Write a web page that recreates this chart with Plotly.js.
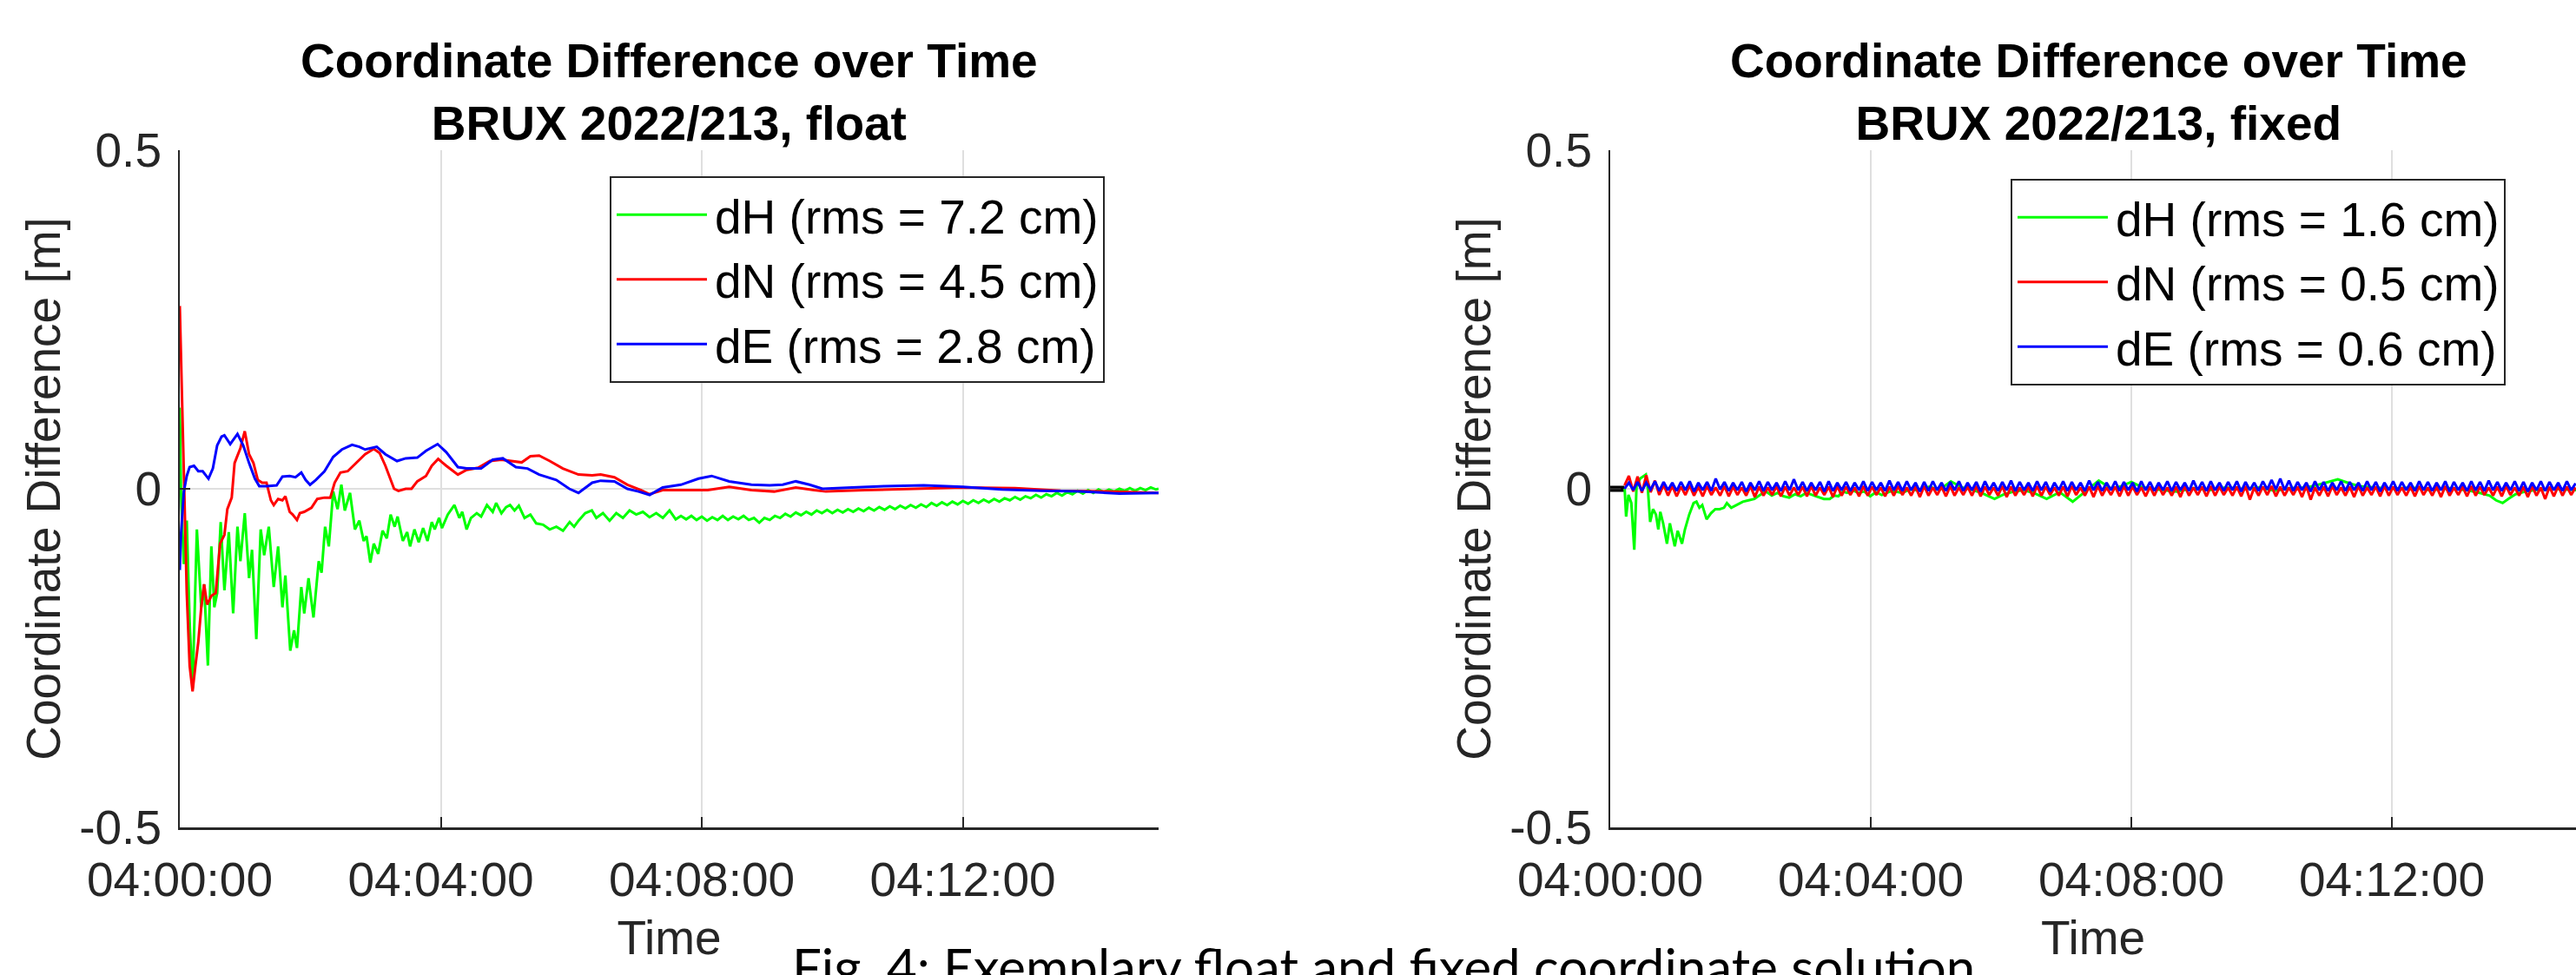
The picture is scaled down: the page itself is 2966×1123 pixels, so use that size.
<!DOCTYPE html>
<html>
<head>
<meta charset="utf-8">
<script src="https://cdn.plot.ly/plotly-3.0.1.min.js"></script>
<style>
html,body{margin:0;padding:0;background:#fff;overflow:hidden}
#chart{width:2966px;height:1123px}
</style>
</head>
<body>
<div id="chart"></div>
<script>
// ---------- tick labels & names ----------
const timeTickVals = [0, 4, 8, 12];                 // minutes after 04:00:00
const timeTickText = ['04:00:00', '04:04:00', '04:08:00', '04:12:00'];
const valueTickVals = [-0.5, 0, 0.5];
const valueTickText = ['-0.5', '0', '0.5'];
const seriesNames = ['dH', 'dN', 'dE'];
const floatRmsCm = [7.2, 4.5, 2.8];
const fixedRmsCm = [1.6, 0.5, 0.6];
const floatTitle = ['Coordinate Difference over Time', 'BRUX 2022/213, float'];
const fixedTitle = ['Coordinate Difference over Time', 'BRUX 2022/213, fixed'];
const captionText = 'Fig. 4: Exemplary float and fixed coordinate solution';

// ---------- float solution: [minutes, metres] ----------
const floatDH = [
[0.000,0.120],[0.018,-0.004],[0.062,-0.111],[0.107,-0.047],[0.151,-0.197],[0.196,-0.295],[0.262,-0.060],
[0.329,-0.175],[0.373,-0.141],[0.431,-0.261],[0.484,-0.085],[0.529,-0.175],[0.573,-0.154],[0.627,-0.049],
[0.684,-0.150],[0.751,-0.064],[0.818,-0.184],[0.884,-0.056],[0.929,-0.107],[0.996,-0.036],[1.062,-0.132],
[1.107,-0.090],[1.173,-0.222],[1.240,-0.060],[1.293,-0.098],[1.364,-0.056],[1.440,-0.145],[1.507,-0.085],
[1.573,-0.175],[1.618,-0.128],[1.693,-0.239],[1.751,-0.209],[1.796,-0.235],[1.862,-0.145],[1.907,-0.184],
[1.973,-0.132],[2.049,-0.190],[2.129,-0.107],[2.173,-0.124],[2.227,-0.056],[2.284,-0.085],[2.351,-0.004],
[2.418,-0.030],[2.476,0.006],[2.529,-0.032],[2.609,-0.006],[2.684,-0.060],[2.751,-0.047],[2.818,-0.077],
[2.862,-0.070],[2.920,-0.109],[2.973,-0.081],[3.040,-0.096],[3.107,-0.062],[3.173,-0.073],[3.231,-0.038],
[3.293,-0.056],[3.338,-0.041],[3.418,-0.077],[3.484,-0.064],[3.529,-0.085],[3.596,-0.060],[3.662,-0.079],
[3.729,-0.058],[3.796,-0.077],[3.862,-0.049],[3.907,-0.060],[3.973,-0.043],[4.018,-0.058],[4.107,-0.038],
[4.209,-0.024],[4.284,-0.043],[4.329,-0.034],[4.396,-0.060],[4.462,-0.043],[4.551,-0.036],[4.618,-0.041],
[4.707,-0.024],[4.796,-0.034],[4.849,-0.021],[4.929,-0.036],[5.000,-0.027],[5.062,-0.024],[5.130,-0.032],
[5.196,-0.025],[5.284,-0.043],[5.373,-0.038],[5.462,-0.051],[5.567,-0.053],[5.669,-0.060],[5.771,-0.056],
[5.873,-0.062],[5.975,-0.049],[6.043,-0.056],[6.111,-0.047],[6.213,-0.036],[6.315,-0.032],[6.383,-0.043],
[6.485,-0.036],[6.587,-0.047],[6.689,-0.036],[6.791,-0.043],[6.893,-0.032],[6.995,-0.038],[7.097,-0.034],
[7.199,-0.042],[7.301,-0.036],[7.403,-0.043],[7.505,-0.032],[7.600,-0.045],[7.68,-0.040],[7.76,-0.045],
[7.84,-0.040],[7.92,-0.046],[8.00,-0.041],[8.08,-0.047],[8.16,-0.042],[8.24,-0.046],[8.32,-0.040],
[8.40,-0.046],[8.48,-0.041],[8.56,-0.045],[8.64,-0.040],[8.72,-0.046],[8.80,-0.043],[8.88,-0.050],
[8.96,-0.043],[9.04,-0.046],[9.12,-0.040],[9.20,-0.043],[9.28,-0.037],[9.36,-0.041],[9.44,-0.035],
[9.52,-0.039],[9.60,-0.034],[9.68,-0.038],[9.76,-0.032],[9.84,-0.036],[9.92,-0.031],[10.00,-0.036],
[10.08,-0.031],[10.16,-0.035],[10.24,-0.030],[10.32,-0.034],[10.40,-0.029],[10.48,-0.033],[10.56,-0.028],
[10.64,-0.032],[10.72,-0.027],[10.80,-0.031],[10.88,-0.026],[10.96,-0.030],[11.04,-0.025],[11.12,-0.029],
[11.20,-0.024],[11.28,-0.028],[11.36,-0.023],[11.44,-0.027],[11.52,-0.021],[11.60,-0.025],[11.68,-0.020],
[11.76,-0.024],[11.84,-0.019],[11.92,-0.023],[12.00,-0.018],[12.08,-0.022],[12.16,-0.017],[12.24,-0.021],
[12.32,-0.016],[12.40,-0.020],[12.48,-0.015],[12.56,-0.019],[12.64,-0.014],[12.72,-0.017],[12.80,-0.012],
[12.88,-0.016],[12.96,-0.011],[13.04,-0.014],[13.12,-0.009],[13.20,-0.013],[13.28,-0.008],[13.36,-0.011],
[13.44,-0.006],[13.52,-0.010],[13.60,-0.005],[13.68,-0.008],[13.76,-0.003],[13.84,-0.007],[13.92,-0.002],
[14.00,-0.006],[14.08,-0.001],[14.16,-0.005],[14.24,-0.001],[14.32,-0.004],[14.40,0.000],[14.48,-0.003],
[14.56,0.001],[14.64,-0.003],[14.72,0.001],[14.80,-0.002],[14.88,0.002],[14.96,-0.001],[15.00,0.000]
];
const floatDN = [
[0.000,0.270],[0.018,0.200],[0.062,0.038],[0.107,-0.154],[0.151,-0.261],[0.196,-0.299],[0.240,-0.261],
[0.284,-0.226],[0.329,-0.175],[0.373,-0.141],[0.418,-0.171],[0.484,-0.158],[0.551,-0.154],[0.618,-0.081],
[0.684,-0.068],[0.729,-0.030],[0.796,-0.013],[0.840,0.038],[0.876,0.047],[0.929,0.060],[0.996,0.085],
[1.062,0.051],[1.129,0.038],[1.196,0.013],[1.262,0.009],[1.329,0.009],[1.396,-0.017],[1.440,-0.024],
[1.507,-0.015],[1.573,-0.017],[1.618,-0.011],[1.684,-0.034],[1.729,-0.038],[1.796,-0.046],[1.840,-0.036],
[1.907,-0.034],[2.018,-0.028],[2.107,-0.015],[2.218,-0.013],[2.307,-0.013],[2.373,0.009],[2.462,0.024],
[2.573,0.026],[2.707,0.038],[2.840,0.051],[2.973,0.059],[3.062,0.053],[3.151,0.034],[3.284,0.000],
[3.351,-0.003],[3.462,0.000],[3.551,0.000],[3.640,0.011],[3.773,0.019],[3.862,0.034],[3.960,0.044],
[4.084,0.034],[4.262,0.021],[4.396,0.028],[4.573,0.031],[4.751,0.041],[4.929,0.043],[5.062,0.041],
[5.240,0.039],[5.373,0.048],[5.507,0.049],[5.670,0.041],[5.870,0.030],[6.110,0.021],[6.320,0.020],
[6.450,0.021],[6.660,0.017],[6.860,0.006],[7.070,-0.002],[7.200,-0.008],[7.400,-0.002],[7.740,-0.002],
[8.090,-0.002],[8.420,0.003],[8.760,-0.002],[9.110,-0.004],[9.440,0.002],[9.720,-0.002],[9.900,-0.004],
[10.50,-0.002],[11.20,0.000],[12.00,0.002],[12.80,0.001],[13.50,-0.003],[14.20,-0.004],[15.00,-0.006]
];
const floatDE = [
[0.000,-0.120],[0.018,-0.068],[0.062,-0.004],[0.107,0.019],[0.151,0.032],[0.218,0.034],[0.284,0.026],
[0.351,0.026],[0.440,0.015],[0.507,0.030],[0.573,0.064],[0.640,0.077],[0.684,0.079],[0.773,0.066],
[0.884,0.081],[0.973,0.064],[1.062,0.038],[1.151,0.015],[1.218,0.004],[1.329,0.004],[1.484,0.005],
[1.573,0.018],[1.684,0.019],[1.773,0.017],[1.862,0.024],[1.929,0.013],[1.996,0.006],[2.084,0.013],
[2.218,0.026],[2.351,0.047],[2.484,0.058],[2.640,0.065],[2.751,0.062],[2.840,0.058],[3.018,0.062],
[3.151,0.051],[3.329,0.041],[3.462,0.045],[3.640,0.046],[3.773,0.056],[3.951,0.066],[4.084,0.054],
[4.262,0.032],[4.396,0.030],[4.618,0.030],[4.796,0.043],[4.951,0.045],[5.151,0.032],[5.329,0.030],
[5.507,0.021],[5.770,0.013],[5.970,0.000],[6.110,-0.006],[6.320,0.009],[6.450,0.012],[6.660,0.011],
[6.860,0.000],[7.030,-0.004],[7.200,-0.009],[7.400,0.002],[7.680,0.006],[7.950,0.015],[8.150,0.019],
[8.420,0.011],[8.760,0.006],[9.040,0.005],[9.240,0.006],[9.440,0.011],[9.650,0.006],[9.850,0.000],
[10.30,0.002],[10.80,0.004],[11.40,0.005],[12.00,0.003],[12.60,-0.001],[13.20,-0.003],[13.80,-0.004],
[14.40,-0.007],[15.00,-0.006]
];

// ---------- fixed solution ----------
const fixedDH = [
[0.222,0.000],[0.244,-0.041],[0.280,-0.009],[0.324,-0.021],[0.369,-0.090],[0.404,0.004],[0.458,0.015],
[0.516,0.019],[0.547,0.021],[0.578,0.000],[0.613,-0.049],[0.658,-0.030],[0.702,-0.038],[0.738,-0.060],
[0.769,-0.034],[0.813,-0.051],[0.871,-0.081],[0.916,-0.051],[0.947,-0.064],[0.991,-0.085],[1.036,-0.062],
[1.102,-0.081],[1.147,-0.060],[1.213,-0.038],[1.280,-0.021],[1.324,-0.019],[1.369,-0.028],[1.413,-0.024],
[1.480,-0.045],[1.547,-0.036],[1.613,-0.030],[1.680,-0.030],[1.747,-0.028],[1.791,-0.021],[1.858,-0.028],
[1.947,-0.024],[2.036,-0.019],[2.124,-0.017],[2.213,-0.015],[2.302,-0.009],[2.391,-0.004],[2.480,-0.010],
[2.569,-0.006],[2.660,-0.011],[2.747,-0.013],[2.840,-0.008],[2.924,-0.011],[3.010,-0.006],[3.102,-0.009],
[3.190,-0.012],[3.280,-0.015],[3.369,-0.015],[3.440,-0.010],[3.502,-0.011],[3.570,-0.004],[3.636,-0.006],
[3.720,-0.002],[3.813,-0.006],[3.900,-0.004],[3.991,-0.011],[4.080,-0.005],[4.169,-0.009],[4.320,-0.003],
[4.480,-0.006],[4.600,-0.001],[4.702,-0.002],[4.900,0.003],[5.050,-0.002],[5.230,0.011],[5.400,0.002],
[5.500,0.000],[5.700,-0.006],[5.900,-0.015],[6.050,-0.008],[6.200,-0.004],[6.350,-0.002],[6.500,-0.006],
[6.700,-0.015],[6.900,-0.005],[7.100,-0.019],[7.300,-0.004],[7.500,0.012],[7.700,0.000],[7.850,0.004],
[8.000,0.010],[8.150,0.003],[8.300,0.000],[8.500,-0.002],[8.700,-0.004],[8.950,0.001],[9.200,-0.002],
[9.450,0.002],[9.700,0.000],[9.950,0.002],[10.200,-0.003],[10.450,0.001],[10.700,0.002],[10.950,0.008],
[11.170,0.014],[11.350,0.008],[11.500,0.004],[11.750,0.002],[12.000,0.000],[12.300,0.002],[12.600,-0.002],
[12.900,0.001],[13.200,-0.003],[13.350,-0.006],[13.500,-0.010],[13.600,-0.017],[13.700,-0.021],
[13.800,-0.014],[13.900,-0.008],[14.050,-0.004],[14.200,-0.002],[14.500,0.000],[14.830,-0.002]
];
const fixedEpochStart = 0.22;      // minutes after 04:00:00 of the first fixed epoch
const fixedEpochStep = 4 / 60;     // 4-second epochs, in minutes
const fixedDN_mm = [
5,19,-4,18,-6,20,-5,12,-9,6,-10,4,-11,3,-9,5,-10,3,-11,4,
-9,2,-10,4,-11,3,-9,2,-10,4,-12,3,-10,2,-9,4,-11,3,-10,2,
-9,3,-11,4,-10,2,-9,3,-12,4,-10,3,-9,2,-11,4,-10,3,-9,2,
-11,3,-10,4,-9,2,-10,3,-12,4,-10,2,-9,3,-11,4,-10,2,-9,3,
-10,4,-11,3,-9,2,-10,4,-12,3,-10,2,-9,3,-11,4,-10,3,-9,2,
-10,3,-11,4,-9,2,-10,3,-12,4,-10,2,-9,3,-11,4,-10,3,-9,2,
-11,3,-10,4,-9,2,-10,3,-12,4,-10,2,-9,3,-11,4,-10,3,-9,2,
-10,3,-11,4,-16,2,-10,3,-9,4,-11,3,-10,2,-9,3,-12,4,-16,2,
-10,3,-11,4,-9,2,-10,3,-12,4,-10,2,-9,3,-11,4,-10,3,-9,2,
-10,3,-11,4,-9,2,-10,3,-12,4,-10,2,-9,3,-11,4,-10,3,-9,2,
-10,3,-11,4,-9,2,-10,3,-12,4,-10,2,-15,3,-11,4,-10,3,-9,2
];
const fixedDE_mm = [
0,9,-2,10,-3,9,-1,11,-3,10,-2,9,-3,10,-2,11,-4,9,-2,10,
-3,15,-1,10,-3,9,-2,10,-4,9,-2,11,-3,10,-2,9,-3,11,-2,14,
-2,10,-3,9,-2,10,-4,11,-3,9,-2,10,-3,9,-2,11,-3,10,-2,9,
-3,12,-2,10,-3,11,-2,9,-4,10,-3,11,-2,9,-3,10,-2,11,-3,9,
-2,10,-4,11,-2,9,-3,10,-2,12,-3,10,-2,9,-3,11,-2,10,-4,9,
-2,11,-3,10,-2,9,-3,12,-2,10,-3,9,-2,11,-3,10,-2,9,-4,11,
-2,10,-3,9,-2,11,-3,10,-2,9,-3,12,-2,10,-3,11,-2,9,-3,10,
-2,11,-4,10,-2,9,-3,11,-1,13,-1,15,-2,12,-3,10,-2,9,-4,11,
-2,10,-3,9,-2,11,-3,10,-2,9,-3,11,-2,10,-4,9,-2,11,-3,10,
-2,9,-3,11,-2,10,-3,9,-2,11,-4,10,-2,9,-3,11,-2,10,-3,12,
-2,10,-3,9,-2,11,-3,10,-4,9,-2,11,-3,10,-2,9,-3,11,-2,8
];
// short black segment drawn at zero before the first fixed epoch
const fixedLeadT = [0, 0.22];
const fixedLeadV = [0, 0];

// ---------- build traces ----------
const colors = ['#00ff00', '#ff0000', '#0000ff'];
const FONT = 'Liberation Sans, Arial, Helvetica, sans-serif';
function label(i, rms) { return seriesNames[i] + ' (rms = ' + rms[i].toFixed(1) + ' cm)'; }
function pairTrace(pairs, i, rms, xa, ya, lg) {
  return {type: 'scatter', mode: 'lines', x: pairs.map(p => p[0]), y: pairs.map(p => p[1]),
    name: label(i, rms), line: {color: colors[i], width: 3}, xaxis: xa, yaxis: ya, legend: lg};
}
const fixedTimes = fixedDE_mm.map((_, k) => fixedEpochStart + k * fixedEpochStep);
const traces = [
  pairTrace(floatDH, 0, floatRmsCm, 'x', 'y', 'legend'),
  pairTrace(floatDN, 1, floatRmsCm, 'x', 'y', 'legend'),
  pairTrace(floatDE, 2, floatRmsCm, 'x', 'y', 'legend'),
  {type: 'scatter', mode: 'lines', x: fixedLeadT, y: fixedLeadV, showlegend: false,
   line: {color: '#000000', width: 7}, xaxis: 'x2', yaxis: 'y2'},
  pairTrace(fixedDH, 0, fixedRmsCm, 'x2', 'y2', 'legend2'),
  {type: 'scatter', mode: 'lines', x: fixedTimes, y: fixedDN_mm.map(v => v / 1000),
   name: label(1, fixedRmsCm), line: {color: colors[1], width: 3}, xaxis: 'x2', yaxis: 'y2', legend: 'legend2'},
  {type: 'scatter', mode: 'lines', x: fixedTimes, y: fixedDE_mm.map(v => v / 1000),
   name: label(2, fixedRmsCm), line: {color: colors[2], width: 3}, xaxis: 'x2', yaxis: 'y2', legend: 'legend2'}
];

// ---------- layout ----------
const W = 2966, H = 1123;
const axisCommon = {
  showline: true, linecolor: '#262626', linewidth: 2,
  ticks: 'inside', ticklen: 12, tickwidth: 2, tickcolor: '#262626',
  showgrid: true, gridcolor: '#dfdfdf', gridwidth: 2, zeroline: false,
  tickfont: {family: FONT, size: 55, color: '#262626'}, automargin: false, fixedrange: true
};
function xAxis(dom, range, anchor) {
  return Object.assign({}, axisCommon, {
    domain: dom, range: range, anchor: anchor, tickmode: 'array',
    tickvals: timeTickVals, ticktext: timeTickText, linewidth: 3, ticklabelstandoff: 10,
    title: {text: 'Time', font: {family: FONT, size: 55, color: '#262626'}, standoff: 18}
  });
}
function yAxis(anchor) {
  return Object.assign({}, axisCommon, {
    domain: [(H - 953) / H, (H - 173) / H], range: [-0.5, 0.5], anchor: anchor, tickmode: 'array',
    tickvals: valueTickVals, ticktext: valueTickText, ticklabelstandoff: 8,
    title: {text: 'Coordinate Difference [m]', font: {family: FONT, size: 55, color: '#262626'}, standoff: 4}
  });
}
function legendBox(xPx, yPx) {
  return {x: xPx / W, y: (H - yPx) / H, xanchor: 'left', yanchor: 'top', bgcolor: '#ffffff',
    bordercolor: '#262626', borderwidth: 2, font: {family: FONT, size: 55, color: '#000000'},
    itemwidth: 109, tracegroupgap: 0};
}
function titleAnn(lines, xPx) {
  return {xref: 'paper', yref: 'paper', x: xPx / W, y: (H - 37) / H, xanchor: 'center', yanchor: 'top',
    text: '<b>' + lines[0] + '</b><br><b>' + lines[1] + '</b>', showarrow: false,
    font: {family: FONT, size: 55, color: '#000000'}};
}
const layout = {
  width: W, height: H, margin: {l: 0, r: 0, t: 0, b: 0},
  paper_bgcolor: '#ffffff', plot_bgcolor: '#ffffff', showlegend: true, hovermode: false,
  xaxis: xAxis([207 / W, 1334 / W], [0, 15], 'y'),
  yaxis: yAxis('x'),
  xaxis2: xAxis([1854 / W, 1], [0, (W - 1854) / 75], 'y2'),
  yaxis2: yAxis('x2'),
  legend: legendBox(702, 203),
  legend2: legendBox(2315, 206),
  annotations: [
    titleAnn(floatTitle, 770),
    titleAnn(fixedTitle, 2416),
    {xref: 'paper', yref: 'paper', x: 1593 / W, y: (H - 1075) / H, xanchor: 'center', yanchor: 'top',
     text: captionText, showarrow: false, font: {family: 'Lato, Carlito, Calibri, sans-serif', size: 60, color: '#000000'}}
  ]
};

Plotly.newPlot('chart', traces, layout, {staticPlot: true, displayModeBar: false}).then(function () {
  document.querySelectorAll('.legendlines path').forEach(function (p) { p.setAttribute('d', 'M6,0h104'); });
});
</script>
</body>
</html>
